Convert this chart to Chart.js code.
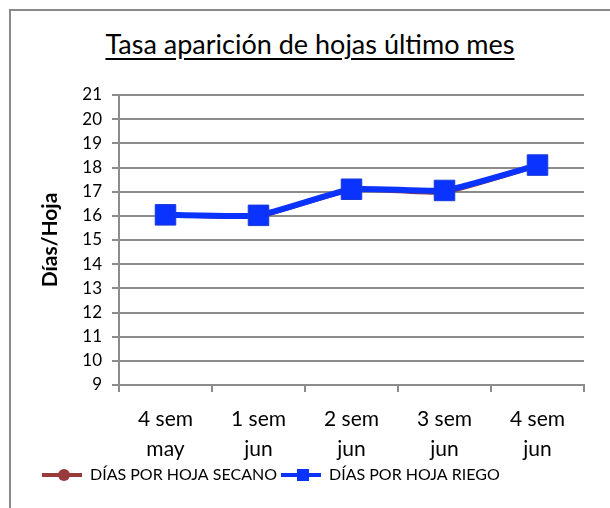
<!DOCTYPE html>
<html>
<head>
<meta charset="utf-8">
<script src="https://cdn.jsdelivr.net/npm/chart.js@4"></script>
<style>
  body { margin: 0; background: #fff; }
  #wrap { position: relative; width: 610px; height: 508px; overflow: hidden; }
  #frame { position: absolute; left: 9px; top: 9px; width: 620px; height: 520px;
           border-left: 2px solid #8a8a8a; border-top: 2px solid #8a8a8a; }
  #title { position: absolute; left: 0; width: 620px; top: 27px; text-align: center;
           font-family: Lato, sans-serif; font-size: 27px; color: #000;
           text-decoration: underline; text-underline-offset: 4px; }
  canvas { position: absolute; left: 0; top: 0; }
</style>
</head>
<body>
<div id="wrap">
  <div id="frame"></div>
  <div id="title">Tasa aparición de hojas último mes</div>
  <canvas id="chart" width="610" height="508"></canvas>
</div>
<script>
        const categories = [['4 sem', 'may'], ['1 sem', 'jun'], ['2 sem', 'jun'], ['3 sem', 'jun'], ['4 sem', 'jun']];
        const secano = [16.0, 15.95, 17.05, 16.95, 18.05];
        const riego = [16.04, 16.02, 17.1, 17.05, 18.1];
        const yTicks = [9, 10, 11, 12, 13, 14, 15, 16, 17, 18, 19, 20, 21];

        const font = 'Lato, sans-serif';
        const grey = '#8c8c8c';
        const legendBox = 40;

        // legend symbols: line with marker in the middle
        const legendMarkers = {
            id: 'legendMarkers',
            afterDraw(chart) {
                const legend = chart.legend;
                const ctx = chart.ctx;
                legend.legendItems.forEach((item, i) => {
                    const box = legend.legendHitBoxes[i];
                    const cx = box.left + legendBox / 2 + 2;
                    const cy = box.top + box.height / 2;
                    ctx.save();
                    if (item.datasetIndex === 0) {
                        ctx.fillStyle = '#983a3a';
                        ctx.beginPath();
                        ctx.arc(cx, cy, 6, 0, Math.PI * 2);
                        ctx.fill();
                    } else {
                        ctx.fillStyle = '#0a33ff';
                        ctx.fillRect(cx - 6, cy - 6, 12, 12);
                    }
                    ctx.restore();
                });
            }
        };

        new Chart(document.getElementById('chart').getContext('2d'), {
            type: 'line',
            data: {
                labels: categories,
                datasets: [{
                    label: 'DÍAS POR HOJA SECANO',
                    data: secano,
                    borderColor: '#983a3a',
                    backgroundColor: '#983a3a',
                    borderWidth: 3,
                    pointStyle: 'circle',
                    pointRadius: 6,
                    pointBackgroundColor: '#983a3a',
                    pointBorderColor: '#983a3a',
                    order: 1,
                    tension: 0.15
                }, {
                    label: 'DÍAS POR HOJA RIEGO',
                    data: riego,
                    borderColor: '#0a33ff',
                    backgroundColor: '#0a33ff',
                    borderWidth: 6,
                    pointStyle: 'rect',
                    pointRadius: 14.5,
                    pointBackgroundColor: '#0a33ff',
                    pointBorderColor: '#1a3ad8',
                    pointBorderWidth: 1,
                    order: 0,
                    tension: 0.15
                }]
            },
            options: {
                responsive: false,
                animation: false,
                events: [],
                layout: { padding: { left: 38, right: 26, top: 95, bottom: 15 } },
                plugins: {
                    title: { display: false },
                    tooltip: { enabled: false },
                    legend: {
                        position: 'bottom',
                        align: 'start',
                        labels: {
                            boxWidth: legendBox,
                            boxHeight: 4,
                            padding: 4,
                            color: '#000',
                            font: { family: font, size: 16 },
                            generateLabels(chart) {
                                const items = Chart.defaults.plugins.legend.labels.generateLabels(chart);
                                items.forEach(it => { it.fillStyle = it.strokeStyle; it.lineWidth = 0; });
                                return items.sort((a, b) => a.datasetIndex - b.datasetIndex);
                            }
                        }
                    }
                },
                scales: {
                    x: {
                        offset: true,
                        afterFit(scale) { scale.height = 78; },
                        grid: { display: true, drawOnChartArea: false, offset: true, color: grey, lineWidth: 2, tickLength: 7 },
                        border: { color: grey, width: 2 },
                        ticks: { color: '#000', padding: 12, maxRotation: 0, autoSkip: false, font: { family: font, size: 21, lineHeight: 1.43 } }
                    },
                    y: {
                        min: 9,
                        max: 21,
                        afterFit(scale) { scale.width = 81; },
                        afterBuildTicks(scale) { scale.ticks = yTicks.map(v => ({ value: v })); },
                        grid: { color: grey, lineWidth: 2, tickLength: 7 },
                        border: { color: grey, width: 2 },
                        ticks: { color: '#000', padding: 10, autoSkip: false, font: { family: font, size: 17 } },
                        title: {
                            display: true,
                            text: 'Días/Hoja',
                            color: '#000',
                            padding: 0,
                            font: { family: font, size: 21, weight: 'bold' }
                        }
                    }
                }
            },
            plugins: [legendMarkers]
        });
</script>
</body>
</html>
